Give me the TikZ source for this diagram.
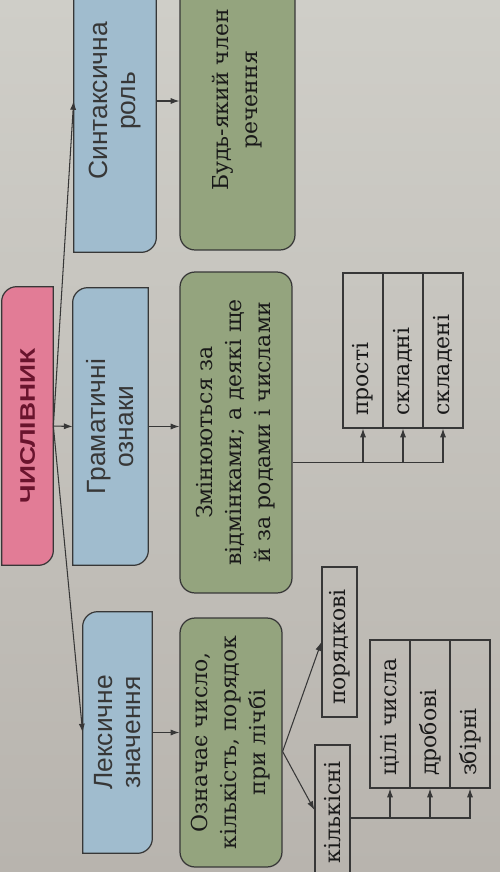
\documentclass[tikz,border=0pt]{standalone}
\usepackage{fontspec}
\setmainfont{DejaVu Serif}
\setsansfont{Liberation Sans}
\usetikzlibrary{arrows.meta, calc, backgrounds}

\definecolor{paperTop}{RGB}{207,206,200}
\definecolor{paperBot}{RGB}{184,180,174}
\definecolor{pinkfill}{RGB}{226,124,150}
\definecolor{pinktext}{RGB}{105,20,45}
\definecolor{bluefill}{RGB}{160,188,206}
\definecolor{greenfill}{RGB}{148,164,126}
\definecolor{inkgray}{RGB}{55,55,55}

\begin{document}
\begin{tikzpicture}[
    x=0.02cm, y=-0.02cm, % one unit = one pixel, y downwards
    >={Latex[length=5pt, width=3.5pt]},
    % Styles
    head/.style={ % word class (pink)
        rotate=90,
        inner sep=0pt,
        text=pinktext,
        font=\sffamily\bfseries\fontsize{12}{14}\selectfont
    },
    feature/.style={ % blue headings
        rotate=90,
        inner sep=0pt,
        align=center,
        text=inkgray,
        font=\sffamily\fontsize{15}{16}\selectfont
    },
    answer/.style={ % green boxes
        rotate=90,
        rectangle,
        rounded corners=3mm,
        draw=inkgray,
        line width=0.7pt,
        fill=greenfill,
        align=center,
        inner sep=0pt,
        text=black!90,
        font=\fontsize{12.5}{16.5}\selectfont
    },
    kind/.style={ % plain boxes
        rotate=90,
        rectangle,
        draw=inkgray,
        line width=0.7pt,
        minimum height=0.8cm,
        inner xsep=0.24cm,
        inner ysep=0pt,
        align=left,
        text=black!90,
        font=\fontsize{12.5}{15}\selectfont
    },
    arrow/.style={
        ->,
        draw=inkgray,
        line width=0.6pt
    }
]

    \useasboundingbox (0,0) rectangle (500,872);
    \begin{pgfonlayer}{background}
        \shade[top color=paperTop, bottom color=paperBot] (0,0) rectangle (500,872);
    \end{pgfonlayer}

    % Word class
    \node[head, minimum width=5.56cm, minimum height=1.02cm] (num) at (27.5,426)
        {\scalebox{1.25}[1]{ЧИСЛІВНИК}};

    % Features
    \node[feature, minimum width=6.04cm, minimum height=1.64cm] (synt) at (115,101) {Синтаксична\\роль};
    \node[feature, minimum width=5.54cm, minimum height=1.5cm] (gram) at (110.5,426.5) {Граматичні\\ознаки};
    \node[feature, minimum width=4.82cm, minimum height=1.38cm] (lex) at (117.5,732.5) {Лексичне\\значення};

    % Answers
    \node[answer, minimum width=6cm, minimum height=2.3cm] (any) at (237.5,100) {Будь-який член\\речення};
    \node[answer, minimum width=6.42cm, minimum height=2.24cm] (chng) at (236,432.5)
        {Змінюються за\\відмінками; а деякі ще\\й за родами і числами};
    \node[answer, minimum width=4.98cm, minimum height=2.04cm] (mean) at (231,742.5)
        {Означає число,\\кількість, порядок\\при лічбі};

    % Kinds
    \foreach \n/\t [count=\i] in {simple/прості, compd/складні, compo/складені}
        \node[kind, text width=2.62cm] (\n) at (323+40*\i,350.5) {\t};
    \node[kind, text width=2.52cm, minimum height=0.7cm] (ord) at (339.5,642) {порядкові};
    \node[kind, text width=2.12cm, minimum height=0.7cm] (card) at (332.5,810) {кількісні};
    \foreach \n/\t [count=\i] in {whole/цілі числа, frac/дробові, coll/збірні}
        \node[kind, text width=2.48cm] (\n) at (350+40*\i,714) {\t};

    % Outlines with two rounded corners
    \begin{pgfonlayer}{background}
        \foreach \n/\c in {num/pinkfill, synt/bluefill, gram/bluefill, lex/bluefill}
            \draw[draw=inkgray, line width=0.7pt, fill=\c]
                (\n.east) -- (\n.south east) [rounded corners=3mm] -- (\n.south west)
                [sharp corners] -- (\n.north west) [rounded corners=3mm] -- (\n.north east)
                [sharp corners] -- cycle;
    \end{pgfonlayer}

    % Arrows from the word class
    \draw[arrow] (num.south) -- (gram.north);
    \draw[arrow] (num.south) -- (synt.north);
    \draw[arrow] (num.south) -- (lex.north);
    \foreach \a/\b in {synt/any, gram/chng, lex/mean}
        \draw[arrow] (\a.south) -- (\a.south -| \b.north);

    % Forms
    \coordinate (chngout) at ($(chng.south)+(0,30)$);
    \draw[arrow] (chngout) -| (compo.west);
    \foreach \n in {simple, compd}
        \draw[arrow] (chngout -| \n.west) -- (\n.west);

    % Meaning
    \coordinate (meanout) at ($(mean.south)+(0,9)$);
    \draw[arrow] (meanout) -- (ord.north);
    \draw[arrow] (meanout) -- (card.north);
    \coordinate (cardout) at ($(card.south)+(0,8)$);
    \draw[arrow] (cardout) -| (coll.west);
    \foreach \n in {whole, frac}
        \draw[arrow] (cardout -| \n.west) -- (\n.west);
\end{tikzpicture}
\end{document}
